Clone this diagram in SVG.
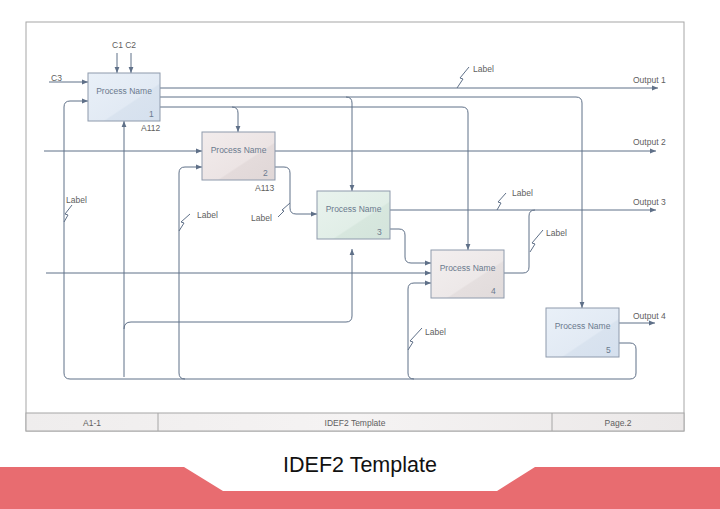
<svg xmlns="http://www.w3.org/2000/svg" width="720" height="509" viewBox="0 0 720 509">
<defs>
<style>
text{font-family:"Liberation Sans",Arial,sans-serif;font-size:8.5px;}
.t{fill:#6b7a8e;}
.g{fill:#606060;}
.ln{fill:none;stroke:#5f7088;stroke-width:1;}
.box{stroke:#8e9aac;stroke-width:1;}
.frame{fill:#fff;stroke:#a6a6a6;stroke-width:1;}
.foot{fill:url(#gf);stroke:#a6a6a6;stroke-width:1;}
</style>
<marker id="ar" viewBox="0 0 6 6" refX="6" refY="3" markerWidth="6" markerHeight="6" markerUnits="userSpaceOnUse" orient="auto">
<path d="M0,0.6 L6,3 L0,5.4 Z" fill="#5f7088"/>
</marker>
<linearGradient id="gb" x1="0" y1="0" x2="1" y2="1">
<stop offset="0" stop-color="#e9f0f8"/><stop offset="0.6" stop-color="#e2eaf4"/><stop offset="0.62" stop-color="#d9e3ef"/><stop offset="1" stop-color="#d5e0ee"/>
</linearGradient>
<linearGradient id="gp" x1="0" y1="0" x2="1" y2="1">
<stop offset="0" stop-color="#f2ecec"/><stop offset="0.6" stop-color="#ece4e4"/><stop offset="0.62" stop-color="#e4dbdb"/><stop offset="1" stop-color="#e0d7d7"/>
</linearGradient>
<linearGradient id="gg" x1="0" y1="0" x2="1" y2="1">
<stop offset="0" stop-color="#e9f3ee"/><stop offset="0.6" stop-color="#e1eee7"/><stop offset="0.62" stop-color="#d7e7de"/><stop offset="1" stop-color="#d3e4db"/>
</linearGradient>
<linearGradient id="gw" x1="0" y1="0" x2="1" y2="1">
<stop offset="0" stop-color="#f3efef"/><stop offset="0.6" stop-color="#ede8e8"/><stop offset="0.62" stop-color="#e5dfdf"/><stop offset="1" stop-color="#e1dbdb"/>
</linearGradient>
<linearGradient id="gf" x1="0" y1="0" x2="1" y2="0">
<stop offset="0" stop-color="#efeded"/><stop offset="0.5" stop-color="#f5f3f3"/><stop offset="1" stop-color="#ebe8e8"/>
</linearGradient>
</defs>
<rect width="720" height="509" fill="#fff"/>
<g id="frame">
<rect class="frame" x="26" y="22" width="658" height="409"/>
<rect class="foot" x="26" y="413" width="658" height="18"/>
<line x1="158" y1="413" x2="158" y2="431" stroke="#a6a6a6"/>
<line x1="552" y1="413" x2="552" y2="431" stroke="#a6a6a6"/>
<text class="g" x="92" y="426" text-anchor="middle">A1-1</text>
<text class="g" x="355" y="426" text-anchor="middle">IDEF2 Template</text>
<text class="g" x="618" y="426" text-anchor="middle">Page.2</text>
</g>
<g id="connectors">
<path class="ln" marker-end="url(#ar)" d="M117,53 V73"/>
<path class="ln" marker-end="url(#ar)" d="M131,53 V73"/>
<path class="ln" marker-end="url(#ar)" d="M49,82 H88"/>
<path class="ln" marker-end="url(#ar)" d="M160,88 H658"/>
<path class="ln" marker-end="url(#ar)" d="M160,97 H576 Q582,97 582,103 V308"/>
<path class="ln" marker-end="url(#ar)" d="M346,97 Q352,97 352,103 V191"/>
<path class="ln" marker-end="url(#ar)" d="M160,107 H232 Q238,107 238,113 V132"/>
<path class="ln" marker-end="url(#ar)" d="M232,107 H462 Q468,107 468,113 V250"/>
<path class="ln" marker-end="url(#ar)" d="M44,151 H202"/>
<path class="ln" marker-end="url(#ar)" d="M275,151 H656"/>
<path class="ln" marker-end="url(#ar)" d="M275,167 H284 Q290,167 290,173 V208 Q290,214 296,214 H317"/>
<path class="ln" marker-end="url(#ar)" d="M390,210 H656"/>
<path class="ln" marker-end="url(#ar)" d="M390,229 H399 Q405,229 405,235 V257 Q405,263 411,263 H431"/>
<path class="ln" marker-end="url(#ar)" d="M46,273 H431"/>
<path class="ln" d="M504,273 H523 Q529,273 529,267 V216 Q529,210 535,210"/>
<path class="ln" marker-end="url(#ar)" d="M619,323 H655"/>
<path class="ln" marker-end="url(#ar)" d="M619,343 H630 Q636,343 636,349 V373 Q636,379 630,379 H70 Q64,379 64,373 V107 Q64,101 70,101 H88"/>
<path class="ln" marker-end="url(#ar)" d="M185,379 Q179,379 179,373 V173 Q179,167 185,167 H202"/>
<path class="ln" marker-end="url(#ar)" d="M414,379 Q408,379 408,373 V289 Q408,283 414,283 H431"/>
<path class="ln" marker-end="url(#ar)" d="M124,377 V121"/>
<path class="ln" marker-end="url(#ar)" d="M124,329 Q124,322 131,322 H346 Q352,322 352,316 V249"/>
<path class="ln" d="M457,88 l6,-9 l-3,-1 l9,-11"/>
<path class="ln" d="M64,222 l4,-7 l-3,-1 l7,-9"/>
<path class="ln" d="M179,231 l5,-8 l-3,-1 l9,-8"/>
<path class="ln" d="M278,217 l6,-6 l-2,-1 l8,-7"/>
<path class="ln" d="M497,210 l4,-7 l-3,-1 l8,-9"/>
<path class="ln" d="M530,252 l5,-8 l-3,-1 l11,-13"/>
<path class="ln" d="M408,350 l5,-8 l-3,-1 l12,-13"/>
</g>
<g id="labels">
<text class="g" x="112" y="48">C1 C2</text>
<text class="g" x="51" y="81">C3</text>
<text class="g" x="141" y="131">A112</text>
<text class="g" x="255" y="191">A113</text>
<text class="g" x="473" y="72">Label</text>
<text class="g" x="66" y="203">Label</text>
<text class="g" x="197" y="218">Label</text>
<text class="g" x="251" y="221">Label</text>
<text class="g" x="512" y="196">Label</text>
<text class="g" x="546" y="236">Label</text>
<text class="g" x="425" y="335">Label</text>
<text class="g" x="633" y="83">Output 1</text>
<text class="g" x="633" y="145">Output 2</text>
<text class="g" x="633" y="205">Output 3</text>
<text class="g" x="633" y="319">Output 4</text>
</g>
<g id="node1">
<rect class="box" x="88" y="73" width="72" height="48" fill="url(#gb)"/>
<text class="t" x="124" y="94" text-anchor="middle">Process Name</text>
<text class="t" x="149" y="117">1</text>
</g>
<g id="node2">
<rect class="box" x="202" y="132" width="73" height="48" fill="url(#gp)"/>
<text class="t" x="238.5" y="153" text-anchor="middle">Process Name</text>
<text class="t" x="263" y="176">2</text>
</g>
<g id="node3">
<rect class="box" x="317" y="191" width="73" height="48" fill="url(#gg)"/>
<text class="t" x="353.5" y="212" text-anchor="middle">Process Name</text>
<text class="t" x="377" y="235">3</text>
</g>
<g id="node4">
<rect class="box" x="431" y="250" width="73" height="48" fill="url(#gw)"/>
<text class="t" x="467.5" y="271" text-anchor="middle">Process Name</text>
<text class="t" x="491" y="294">4</text>
</g>
<g id="node5">
<rect class="box" x="546" y="308" width="73" height="49" fill="url(#gb)"/>
<text class="t" x="582.5" y="329" text-anchor="middle">Process Name</text>
<text class="t" x="606" y="353">5</text>
</g>
<g id="banner">
<polygon points="0,467 184,467 223,491 497,491 535,467 720,467 720,509 0,509" fill="#e86c70"/>
<text x="360" y="472" text-anchor="middle" style="font-size:21.5px;fill:#111;">IDEF2 Template</text>
</g>
</svg>
